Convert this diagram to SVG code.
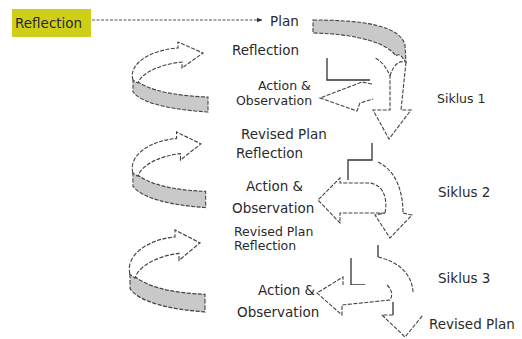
<svg xmlns="http://www.w3.org/2000/svg" xmlns:xlink="http://www.w3.org/1999/xlink" width="522" height="339" viewBox="0 0 522 339">
<style>
text{font-family:"DejaVu Sans","Liberation Sans",sans-serif;fill:#2a2a2a;font-size:13.5px}
.sm{font-size:12.5px}
.ln{fill:none;stroke:#444;stroke-width:1.1;stroke-dasharray:4 1.5}
.sol{fill:none;stroke:#333;stroke-width:1.3}
.wf{fill:#fff;stroke:#444;stroke-width:1.1;stroke-dasharray:4 1.5}
.gf{fill:#c9c9c9;stroke:#444;stroke-width:1.1;stroke-dasharray:4 1.5}
</style>
<defs>
<marker id="ah" viewBox="0 0 10 10" refX="9" refY="5" markerWidth="6" markerHeight="6" orient="auto">
<path d="M0,1 L10,5 L0,9 Z" fill="#333"/>
</marker>
<g id="loop">
<path class="gf" d="M3,36 C18,50 50,54 78,55 L78,70 C45,68 12,62 3,50 Z"/>
<path class="wf" d="M3,38 C-2,22 20,8 48,6 L48,0 L73,11 L52,26 L52,20 C32,22 12,30 8,41 Z"/>
</g>
</defs>
<rect width="522" height="339" fill="#fff"/>
<g id="connectors">
<path d="M92,20 L262,20" stroke="#555" stroke-width="1" stroke-dasharray="3 1.5" fill="none" marker-end="url(#ah)"/>
</g>
<g id="reflection-box">
<rect x="12" y="9" width="79" height="28" fill="#cfcf1a"/>
<text x="15" y="28">Reflection</text>
</g>
<g id="plan"><text x="270" y="26">Plan</text></g>
<g id="loop1"><use xlink:href="#loop" transform="translate(130,42)"/></g>
<g id="loop2"><use xlink:href="#loop" transform="translate(130,132) scale(0.97,1.08)"/></g>
<g id="loop3"><use xlink:href="#loop" transform="translate(127,230) scale(1,1.17)"/></g>
<g id="cycle1-arrows">
<path class="gf" d="M313,20 C365,20 400,26 405,45 L406,62 C402,58 400,52 396,56 C388,44 360,34 313,33 Z"/>
<path class="wf" d="M406,62 L401,110 L411,110 L389,139 L373,110 L390,110 L390,76 C386,66 380,60 375,58"/>
<path class="ln" d="M390,76 C393,66 398,60 406,62"/>
<path class="sol" d="M327,58 L327,80 L370,80"/>
<path class="wf" d="M372,84 L362,82 L320,98 L357,111 L360,103 L373,99"/>
</g>
<g id="cycle2-arrows">
<path class="sol" d="M372,143 L372,160 L348,160 L348,180"/>
<path class="ln" d="M378,162 C395,170 403,190 403,213"/>
<path class="wf" d="M403,213 L412,215 L390,238 L375,215 L385,213"/>
<path class="wf" d="M385,213 C388,198 383,185 370,183 L340,183 L340,178 L318,200 L340,223 L340,213 L385,213"/>
</g>
<g id="cycle3-arrows">
<path class="sol" d="M378,245 L378,257"/>
<path class="ln" d="M378,257 C400,262 412,275 413,292"/>
<path class="sol" d="M351,258 L351,285 L365,285"/>
<path class="wf" d="M387,285 C392,290 393,295 390,300 L342,305 L342,315 L317,293 L343,277 L343,285"/>
<path class="sol" d="M393,302 L393,315"/>
<path class="wf" d="M393,315 L382,315 L405,337 L423,315"/>
</g>
<g id="labels">
<text x="232" y="55">Reflection</text>
<text x="258" y="90" class="sm">Action &amp;</text>
<text x="236" y="105" class="sm">Observation</text>
<text x="437" y="103" class="sm">Siklus 1</text>
<text x="241" y="139">Revised Plan</text>
<text x="236" y="158">Reflection</text>
<text x="246" y="191">Action &amp;</text>
<text x="232" y="213">Observation</text>
<text x="438" y="197">Siklus 2</text>
<text x="234" y="236" class="sm">Revised Plan</text>
<text x="234" y="250" class="sm">Reflection</text>
<text x="438" y="283">Siklus 3</text>
<text x="258" y="295">Action &amp;</text>
<text x="237" y="317">Observation</text>
<text x="429" y="329">Revised Plan</text>
</g>
</svg>
